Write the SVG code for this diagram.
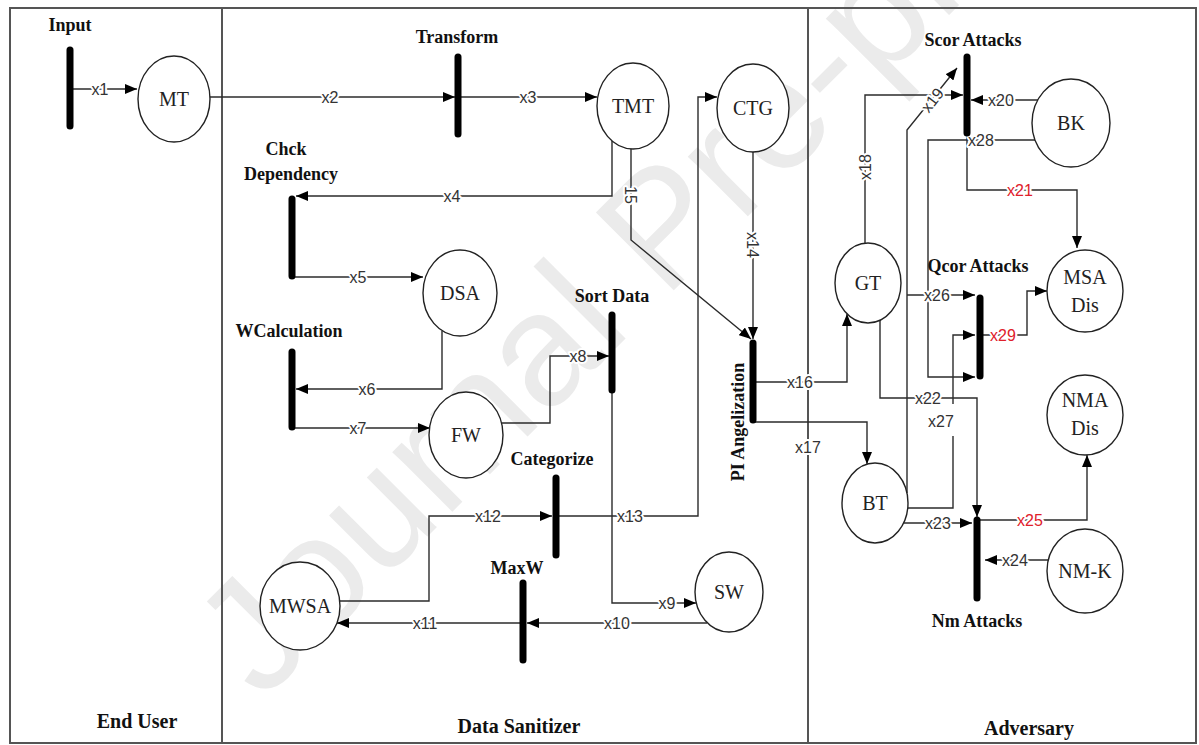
<svg xmlns="http://www.w3.org/2000/svg" width="1199" height="745" viewBox="0 0 1199 745">
<defs>
<style>
.ln{fill:none;stroke:#2b2b2b;stroke-width:1.4}
.bar{stroke:#000;stroke-width:7;stroke-linecap:round}
.nd{fill:#fff;stroke:#222;stroke-width:1.4}
.nt{font-family:"Liberation Serif",serif;font-size:20px;text-anchor:middle;fill:#222}
.bl{font-family:"Liberation Serif",serif;font-weight:bold;font-size:18px;text-anchor:middle;fill:#111}
.big{font-size:20px}
.el{font-family:"Liberation Sans",Arial,sans-serif;font-size:16px;text-anchor:middle;fill:#333;stroke:#fff;stroke-width:4;paint-order:stroke;stroke-linejoin:round}
.red{fill:#e0202a}
.wm{font-family:"Liberation Sans",Arial,sans-serif;font-size:160px;fill:#ebebeb}
</style>
<marker id="ah" viewBox="0 0 12 10" refX="12" refY="5" markerWidth="12" markerHeight="10" markerUnits="userSpaceOnUse" orient="auto"><path d="M0,0 L12,5 L0,10 z" fill="#000"/></marker>
</defs>
<rect width="1199" height="745" fill="#fff"/>
<text class="wm" transform="translate(262,702) rotate(-45)">Journal Pre-proof</text>
<g id="frame" fill="none" stroke="#555" stroke-width="2">
<rect x="10" y="8" width="1186" height="735"/>
<line x1="222" y1="8" x2="222" y2="743"/>
<line x1="808" y1="8" x2="808" y2="743"/>
</g>
<g id="lanes">
<text class="bl big" x="137" y="728">End User</text>
<text class="bl big" x="519" y="733">Data Sanitizer</text>
<text class="bl big" x="1029" y="735">Adversary</text>
</g>
<g id="connectors">
<path class="ln" marker-end="url(#ah)" d="M70,89 H137"/>
<path class="ln" marker-end="url(#ah)" d="M210,97 H455"/>
<path class="ln" marker-end="url(#ah)" d="M458,97 H597"/>
<path class="ln" marker-end="url(#ah)" d="M612,141 V196 H296"/>
<path class="ln" marker-end="url(#ah)" d="M292,277 H423"/>
<path class="ln" marker-end="url(#ah)" d="M442,331 V389 H296"/>
<path class="ln" marker-end="url(#ah)" d="M292,428 H430"/>
<path class="ln" marker-end="url(#ah)" d="M502,423 H550 V356 H609"/>
<path class="ln" marker-end="url(#ah)" d="M612,390 V603 H696"/>
<path class="ln" marker-end="url(#ah)" d="M707,623 H527"/>
<path class="ln" marker-end="url(#ah)" d="M523,623 H337"/>
<path class="ln" marker-end="url(#ah)" d="M340,601 H429 V516 H552"/>
<path class="ln" marker-end="url(#ah)" d="M556,516 H698 V97 H717"/>
<path class="ln" marker-end="url(#ah)" d="M631,149 V240 L751,339"/>
<path class="ln" marker-end="url(#ah)" d="M753,152 V339"/>
<path class="ln" marker-end="url(#ah)" d="M753,382 H847 V314"/>
<path class="ln" marker-end="url(#ah)" d="M753,422 H867 V464"/>
<path class="ln" marker-end="url(#ah)" d="M865,243 V95 H963"/>
<path class="ln" marker-end="url(#ah)" d="M907,493 V130 L957,68"/>
<path class="ln" marker-end="url(#ah)" d="M907,295 H975"/>
<path class="ln" marker-end="url(#ah)" d="M1038,100 H971"/>
<path class="ln" marker-end="url(#ah)" d="M967,133 V190 H1077 V248"/>
<path class="ln" marker-end="url(#ah)" d="M1035,140 H928 V377 H975"/>
<path class="ln" marker-end="url(#ah)" d="M980,335 H1027 V291 H1047"/>
<path class="ln" d="M908,508 H953 V436"/>
<path class="ln" marker-end="url(#ah)" d="M953,404 V335 H975"/>
<path class="ln" marker-end="url(#ah)" d="M880,320 V398 H977 V517"/>
<path class="ln" marker-end="url(#ah)" d="M904,523 H972"/>
<path class="ln" marker-end="url(#ah)" d="M1048,560 H985"/>
<path class="ln" marker-end="url(#ah)" d="M977,520 H1087 V455"/>
<text class="el" x="100" y="95">x1</text>
<text class="el" x="330" y="103">x2</text>
<text class="el" x="528" y="103">x3</text>
<text class="el" x="452" y="202">x4</text>
<text class="el" x="358" y="283">x5</text>
<text class="el" x="367" y="395">x6</text>
<text class="el" x="358" y="434">x7</text>
<text class="el" x="578" y="362">x8</text>
<text class="el" x="667" y="609">x9</text>
<text class="el" x="617" y="629">x10</text>
<text class="el" x="425" y="629">x11</text>
<text class="el" x="488" y="522">x12</text>
<text class="el" x="630" y="522">x13</text>
<text class="el" transform="translate(631,195) rotate(90)" x="0" y="6">15</text>
<text class="el" transform="translate(753,245) rotate(90)" x="0" y="6">x14</text>
<text class="el" x="800" y="388">x16</text>
<text class="el" x="808" y="453">x17</text>
<text class="el" transform="translate(865,167) rotate(-90)" x="0" y="6">x18</text>
<text class="el" transform="translate(932,100) rotate(-52)" x="0" y="6">x19</text>
<text class="el" x="1001" y="106">x20</text>
<text class="el red" x="1020" y="196">x21</text>
<text class="el" x="928" y="404">x22</text>
<text class="el" x="938" y="529">x23</text>
<text class="el" x="1015" y="566">x24</text>
<text class="el red" x="1030" y="526">x25</text>
<text class="el" x="937" y="301">x26</text>
<text class="el" x="941" y="427">x27</text>
<text class="el" x="981" y="146">x28</text>
<text class="el red" x="1003" y="341">x29</text>
</g>
<g id="t-input"><line class="bar" x1="70" y1="50" x2="70" y2="126"/><text class="bl" x="70" y="31">Input</text></g>
<g id="t-transform"><line class="bar" x1="458" y1="57" x2="458" y2="134"/><text class="bl" x="457" y="43">Transform</text></g>
<g id="t-chck"><line class="bar" x1="292" y1="199" x2="292" y2="276"/><text class="bl" x="286" y="155">Chck</text><text class="bl" x="291" y="180">Dependency</text></g>
<g id="t-wcalc"><line class="bar" x1="292" y1="352" x2="292" y2="427"/><text class="bl" x="289" y="337">WCalculation</text></g>
<g id="t-sort"><line class="bar" x1="612" y1="315" x2="612" y2="390"/><text class="bl" x="612" y="302">Sort Data</text></g>
<g id="t-categorize"><line class="bar" x1="556" y1="478" x2="556" y2="555"/><text class="bl" x="552" y="465">Categorize</text></g>
<g id="t-maxw"><line class="bar" x1="523" y1="583" x2="523" y2="660"/><text class="bl" x="517" y="574">MaxW</text></g>
<g id="t-pi"><line class="bar" x1="753" y1="343" x2="753" y2="420"/><text class="bl" transform="translate(744,422) rotate(-90)">PI Angelization</text></g>
<g id="t-scor"><line class="bar" x1="967" y1="57" x2="967" y2="133"/><text class="bl" x="973" y="46">Scor Attacks</text></g>
<g id="t-qcor"><line class="bar" x1="980" y1="298" x2="980" y2="376"/><text class="bl" x="978" y="272">Qcor Attacks</text></g>
<g id="t-nm"><line class="bar" x1="977" y1="520" x2="977" y2="598"/><text class="bl" x="977" y="627">Nm Attacks</text></g>
<g id="n-mt"><ellipse class="nd" cx="174" cy="99" rx="36" ry="43"/><text class="nt" x="174" y="106">MT</text></g>
<g id="n-tmt"><ellipse class="nd" cx="633" cy="106" rx="36" ry="43"/><text class="nt" x="633" y="113">TMT</text></g>
<g id="n-ctg"><ellipse class="nd" cx="753" cy="108" rx="36" ry="44"/><text class="nt" x="753" y="115">CTG</text></g>
<g id="n-dsa"><ellipse class="nd" cx="460" cy="293" rx="37" ry="43"/><text class="nt" x="460" y="300">DSA</text></g>
<g id="n-fw"><ellipse class="nd" cx="466" cy="435" rx="37" ry="43"/><text class="nt" x="466" y="442">FW</text></g>
<g id="n-sw"><ellipse class="nd" cx="729" cy="592" rx="34" ry="40"/><text class="nt" x="729" y="599">SW</text></g>
<g id="n-mwsa"><ellipse class="nd" cx="300" cy="606" rx="40" ry="44"/><text class="nt" x="300" y="613">MWSA</text></g>
<g id="n-gt"><ellipse class="nd" cx="868" cy="283" rx="33" ry="40"/><text class="nt" x="868" y="290">GT</text></g>
<g id="n-bt"><ellipse class="nd" cx="875" cy="503" rx="33" ry="40"/><text class="nt" x="875" y="510">BT</text></g>
<g id="n-bk"><ellipse class="nd" cx="1071" cy="123" rx="39" ry="44"/><text class="nt" x="1071" y="130">BK</text></g>
<g id="n-msa"><ellipse class="nd" cx="1085" cy="291" rx="38" ry="41"/><text class="nt" x="1085" y="284">MSA</text><text class="nt" x="1085" y="312">Dis</text></g>
<g id="n-nma"><ellipse class="nd" cx="1085" cy="415" rx="38" ry="40"/><text class="nt" x="1085" y="407">NMA</text><text class="nt" x="1085" y="435">Dis</text></g>
<g id="n-nmk"><ellipse class="nd" cx="1085" cy="571" rx="38" ry="42"/><text class="nt" x="1085" y="578">NM-K</text></g>
</svg>
